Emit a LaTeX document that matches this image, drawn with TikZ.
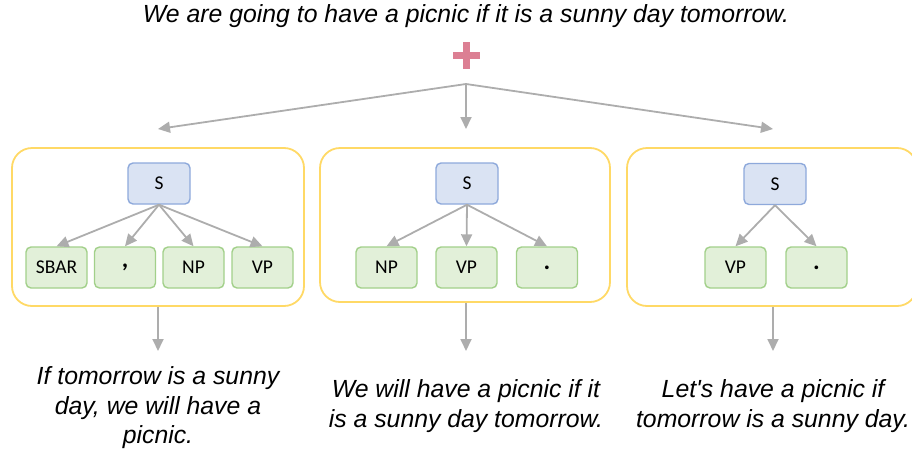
\documentclass[tikz,border=0pt]{standalone}
\usepackage{fontspec}
\setmainfont{Liberation Sans}
\newfontfamily\calfont{Carlito}
\usetikzlibrary{arrows.meta}
\definecolor{boxy}{HTML}{FFD966}
\definecolor{sblue}{HTML}{8EA9DB}
\definecolor{sfill}{HTML}{DAE3F3}
\definecolor{cgreen}{HTML}{A2D08A}
\definecolor{cfill}{HTML}{E2F0D9}
\definecolor{arrgray}{HTML}{ADADAD}
\definecolor{plusc}{HTML}{DC7F93}
\tikzset{
  outer/.style={draw=boxy, line width=1.8pt, rounded corners=20pt, inner sep=0pt, minimum width=292pt, minimum height=158pt},
  snode/.style={draw=sblue, fill=sfill, line width=1.4pt, rounded corners=5pt, minimum width=62pt, minimum height=41pt, inner sep=0pt, font=\calfont\fontsize{19.5}{21}\selectfont},
  cnode/.style={draw=cgreen, fill=cfill, line width=1.4pt, rounded corners=5pt, minimum width=61pt, minimum height=41pt, inner sep=0pt, font=\calfont\fontsize{19.5}{21}\selectfont},
  punct/.style={cnode, font=\calfont\bfseries\fontsize{25}{25}\selectfont},
  arr/.style={draw=arrgray, line width=1.8pt, -{Triangle[width=11pt,length=12pt]}},
  outtext/.style={font=\itshape\fontsize{24.8}{29.5}\selectfont, align=center, inner sep=0pt},
}
\begin{document}
\begin{tikzpicture}[x=1pt,y=-1pt]
\useasboundingbox (0,0) rectangle (912,450);
\clip (0,0) rectangle (912,450);
% title
\node[outtext] (title) at (466,16) {We are going to have a picnic if it is a sunny day tomorrow.};
% plus
\fill[plusc] (452.5,51.5) rectangle (479.5,58.5);
\fill[plusc] (462.5,41.5) rectangle (469.5,68.5);
% outer boxes
\node[outer] (boxL) at (158,227) {};
\node[outer, minimum width=290pt, minimum height=154pt] (boxM) at (465,225) {};
\node[outer, minimum width=290pt] (boxR) at (772,227) {};
% fork
\coordinate (fork) at (466,84);
\coordinate (tL) at (158,129);
\coordinate (tM) at (466,129);
\coordinate (tR) at (773,129);
\draw[arr] (fork) -- (tL);
\draw[arr] (fork) -- (tM);
\draw[arr] (fork) -- (tR);
% left tree
\node[snode] (sL) at (159,183.5) {S};
\node[cnode] (l1) at (56.5,267.5) {SBAR};
\node[punct] (l2) at (125,267.5) {,};
\node[cnode] (l3) at (193.5,267.5) {NP};
\node[cnode] (l4) at (262.5,267.5) {VP};
\foreach \c in {l1,l2,l3,l4} \draw[arr] (sL.south) -- (\c.north);
% middle tree
\node[snode] (sM) at (467,183.5) {S};
\node[cnode] (m1) at (386.5,267.5) {NP};
\node[cnode] (m2) at (466.5,267.5) {VP};
\node[punct] (m3) at (547,267.5) {.};
\foreach \c in {m1,m2,m3} \draw[arr] (sM.south) -- (\c.north);
% right tree
\node[snode] (sR) at (775,184) {S};
\node[cnode] (r1) at (735.5,267.5) {VP};
\node[punct] (r2) at (816.5,267.5) {.};
\foreach \c in {r1,r2} \draw[arr] (sR.south) -- (\c.north);
% outputs
\node[outtext] (oL) at (158,408) {If tomorrow is a sunny\\day, we will have a\\picnic.};
\node[outtext] (oM) at (466,406) {We will have a picnic if it\\is a sunny day tomorrow.};
\node[outtext] (oR) at (773,406) {Let\textquotesingle s have a picnic if\\tomorrow is a sunny day.};
\coordinate (aL) at (158,351);
\coordinate (aM) at (466,351);
\coordinate (aR) at (773,351);
\draw[arr] (boxL.south -| aL) -- (aL);
\draw[arr] (boxM.south -| aM) -- (aM);
\draw[arr] (boxR.south -| aR) -- (aR);
\end{tikzpicture}
\end{document}
